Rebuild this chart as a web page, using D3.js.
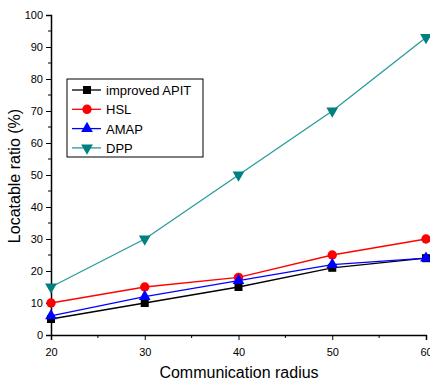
<!DOCTYPE html>
<html>
<head>
<meta charset="utf-8">
<script src="https://cdn.jsdelivr.net/npm/d3@7"></script>
<style>
  body { margin: 0; background: #fff; }
  text { font-family: Arial, "Liberation Sans", sans-serif; }
</style>
</head>
<body>
<svg id="chart" width="430" height="383"></svg>
<script>
// data
const radius = [20, 30, 40, 50, 60]
const apit = [5, 10, 15, 21, 24]
const hsl = [10, 15, 18, 25, 30]
const amap = [6, 12, 17, 22, 24]
const dpp = [15, 30, 50, 70, 93]
const xTicks = [20, 30, 40, 50, 60]
const yTicks = [0, 10, 20, 30, 40, 50, 60, 70, 80, 90, 100]

const series = [
  { name: 'improved APIT', values: apit, color: '#000000', mark: 'square' },
  { name: 'HSL', values: hsl, color: '#ff0000', mark: 'circle' },
  { name: 'AMAP', values: amap, color: '#0000ff', mark: 'triangle' },
  { name: 'DPP', values: dpp, color: '#008080', mark: 'triangleDown' }
]

let svg = d3.select('#chart')

let x = d3.scaleLinear().domain([20, 60]).range([51, 426])
let y = d3.scaleLinear().domain([0, 100]).range([335, 15])

// axes
let xAxis = svg.append('g')
  .attr('transform', 'translate(0,335)')
  .call(d3.axisBottom(x).tickValues(xTicks).tickSize(5).tickPadding(8))
xAxis.selectAll('line.minor')
  .data([25, 35, 45, 55])
  .enter().append('line')
  .attr('x1', d => x(d)).attr('x2', d => x(d))
  .attr('y1', 0).attr('y2', 3)
  .attr('stroke', '#000')

let yAxis = svg.append('g')
  .attr('transform', 'translate(51,0)')
  .call(d3.axisLeft(y).tickValues(yTicks).tickSize(5).tickPadding(3))
yAxis.selectAll('line.minor')
  .data(d3.range(5, 100, 10))
  .enter().append('line')
  .attr('x1', 0).attr('x2', -3)
  .attr('y1', d => y(d)).attr('y2', d => y(d))
  .attr('stroke', '#000')

svg.selectAll('.domain').attr('stroke', '#000').attr('stroke-width', 1.5)
svg.selectAll('.tick line').attr('stroke', '#000')
svg.selectAll('.tick text')
  .attr('font-size', 11).attr('fill', '#000')
  .style('font-family', 'Arial, "Liberation Sans", sans-serif')

// axis titles
svg.append('text')
  .attr('x', 239).attr('y', 378)
  .attr('text-anchor', 'middle')
  .attr('font-size', 16)
  .text('Communication radius')

svg.append('text')
  .attr('transform', 'translate(20,176) rotate(-90)')
  .attr('text-anchor', 'middle')
  .attr('font-size', 16)
  .text('Locatable ratio (%)')

// marker shapes
const symbols = {
  square: d3.symbol().type(d3.symbolSquare).size(64),
  circle: d3.symbol().type(d3.symbolCircle).size(70),
  triangle: d3.symbol().type(d3.symbolTriangle).size(60),
  triangleDown: d3.symbol().type(d3.symbolTriangle).size(60)
}

function drawMark(g, s, cx, cy) {
  g.append('path')
    .attr('d', symbols[s.mark]())
    .attr('transform', `translate(${cx},${cy})` + (s.mark == 'triangleDown' ? ' rotate(180)' : ''))
    .attr('fill', s.color)
}

let line = d3.line().x((d, i) => x(radius[i])).y(d => y(d))

series.forEach(s => {
  svg.append('path')
    .datum(s.values)
    .attr('d', line)
    .attr('fill', 'none')
    .attr('stroke', s.mark == 'triangleDown' ? '#2a9a9a' : s.color)
    .attr('stroke-width', 1.3)
  let g = svg.append('g')
  s.values.forEach((v, i) => drawMark(g, s, x(radius[i]), y(v)))
})

// legend
let legend = svg.append('g')
legend.append('rect')
  .attr('x', 67).attr('y', 79)
  .attr('width', 136).attr('height', 78)
  .attr('fill', '#fff').attr('stroke', '#000').attr('stroke-width', 1)

series.forEach((s, i) => {
  let ly = 90 + i * 19.3
  legend.append('line')
    .attr('x1', 72).attr('x2', 101)
    .attr('y1', ly).attr('y2', ly)
    .attr('stroke', s.mark == 'triangleDown' ? '#2a9a9a' : s.color)
    .attr('stroke-width', 1.3)
  drawMark(legend, s, 87, ly)
  legend.append('text')
    .attr('x', 106).attr('y', ly + 5)
    .attr('font-size', 13)
    .text(s.name)
})
</script>
</body>
</html>
